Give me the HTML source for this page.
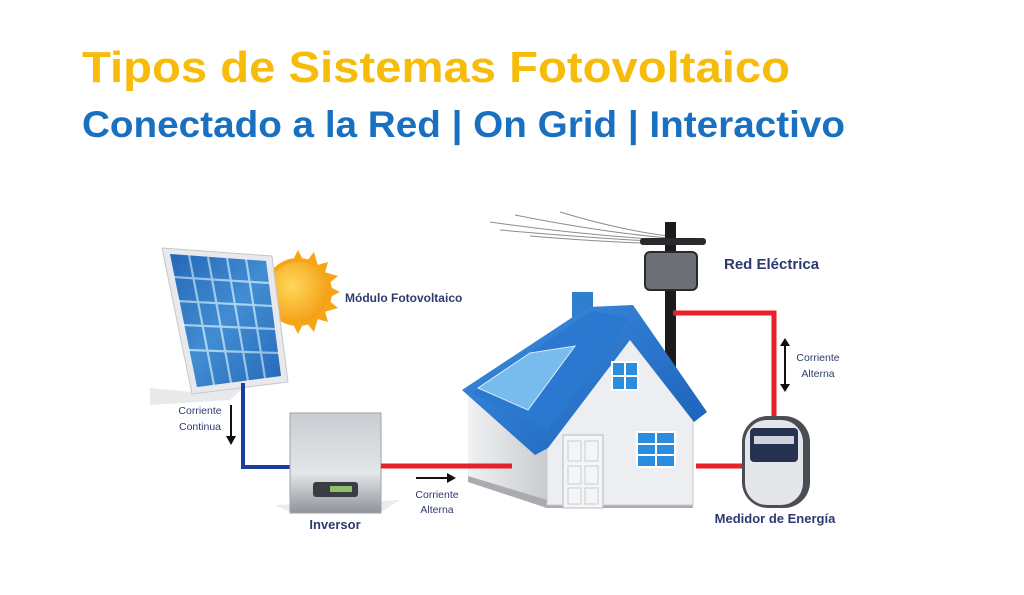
<!DOCTYPE html>
<html><head><meta charset="utf-8"><style>html,body{margin:0;padding:0;background:#fff}svg{display:block}</style></head>
<body>
<svg width="1024" height="595" viewBox="0 0 1024 595" xmlns="http://www.w3.org/2000/svg" font-family="Liberation Sans, sans-serif">
<defs>
<linearGradient id="cell" x1="0" y1="0" x2="1" y2="1"><stop offset="0" stop-color="#1b5fae"/><stop offset="0.5" stop-color="#5fb1e8"/><stop offset="1" stop-color="#1f62b0"/></linearGradient>
<radialGradient id="sun" cx="0.4" cy="0.4" r="0.7"><stop offset="0" stop-color="#ffd85a"/><stop offset="1" stop-color="#f39a10"/></radialGradient>
<linearGradient id="inv" x1="0" y1="0" x2="0" y2="1"><stop offset="0" stop-color="#c9ccd1"/><stop offset="0.6" stop-color="#e4e6e9"/><stop offset="1" stop-color="#8f939a"/></linearGradient>
<linearGradient id="roof" x1="0" y1="0" x2="1" y2="1"><stop offset="0" stop-color="#3d8ee0"/><stop offset="1" stop-color="#1a5fb8"/></linearGradient>
<linearGradient id="side" x1="0" y1="0" x2="1" y2="0"><stop offset="0" stop-color="#f0f1f3"/><stop offset="1" stop-color="#c9cbcf"/></linearGradient>
</defs>
<text x="82" y="82" font-size="44" font-weight="bold" fill="#f7bb0a" textLength="708" lengthAdjust="spacingAndGlyphs">Tipos de Sistemas Fotovoltaico</text>
<text x="82" y="137" font-size="37" font-weight="bold" fill="#1a70c0" textLength="763" lengthAdjust="spacingAndGlyphs">Conectado a la Red | On Grid | Interactivo</text>

<g transform="translate(298,292)">
<circle r="34" fill="#f6a515"/>
<g fill="#f6a515"><polygon points="0,-42 6,-30 -6,-30"/><polygon points="0,42 6,30 -6,30"/><polygon points="42,0 30,6 30,-6"/><polygon points="30,-30 26,-16 16,-26"/><polygon points="30,30 26,16 16,26"/><polygon points="16,-40 20,-26 8,-30"/><polygon points="40,-16 26,-20 30,-8"/><polygon points="40,16 26,20 30,8"/><polygon points="16,40 20,26 8,30"/></g>
<circle r="30" fill="url(#sun)"/>
</g>
<polygon points="150,388 192,392 250,382 230,400 150,405" fill="#d9dadd" opacity="0.6"/>
<polygon points="162,248 272,256 288,382 192,394" fill="#e8e9ec" stroke="#c5c7cc"/>
<polygon points="170,254 266,261 281,376 197,387" fill="#2a6fc0"/>
<g stroke="#e8f2fa" stroke-width="2.2" fill="none">
<line x1="189" y1="255" x2="214" y2="385"/><line x1="208" y1="257" x2="231" y2="383"/><line x1="227" y1="258" x2="248" y2="381"/><line x1="246" y1="259" x2="265" y2="378"/>
<line x1="173" y1="277" x2="269" y2="283"/><line x1="177" y1="301" x2="272" y2="306"/><line x1="182" y1="325" x2="275" y2="329"/><line x1="188" y1="350" x2="278" y2="353"/>
</g>
<polygon points="170,254 266,261 281,376 197,387" fill="url(#cell)" opacity="0.45"/>
<text x="345" y="302" font-size="12" font-weight="bold" fill="#2d3a6e">Módulo Fotovoltaico</text>

<polyline points="243,383 243,467 291,467" fill="none" stroke="#1c3d9a" stroke-width="4"/>
<text x="200" y="414" font-size="10.5" fill="#2d3a6e" text-anchor="middle">Corriente</text>
<text x="200" y="430" font-size="10.5" fill="#2d3a6e" text-anchor="middle">Continua</text>
<line x1="231" y1="405" x2="231" y2="437" stroke="#111" stroke-width="2"/><polygon points="226,436 236,436 231,445" fill="#111"/>

<polygon points="275,505 290,512 381,512 400,500" fill="#ddd" opacity="0.6"/>
<rect x="290" y="413" width="91" height="100" fill="url(#inv)" stroke="#9ea2a8"/>
<rect x="313" y="482" width="45" height="15" rx="3" fill="#3a3d44"/>
<rect x="330" y="486" width="22" height="6" fill="#8fbf6a"/>
<text x="335" y="529" font-size="13" font-weight="bold" fill="#2d3a6e" text-anchor="middle">Inversor</text>

<line x1="416" y1="478" x2="448" y2="478" stroke="#111" stroke-width="2"/><polygon points="447,473 456,478 447,483" fill="#111"/>
<text x="437" y="498" font-size="10.5" fill="#2d3a6e" text-anchor="middle">Corriente</text>
<text x="437" y="513" font-size="10.5" fill="#2d3a6e" text-anchor="middle">Alterna</text>

<g stroke="#8a8d92" stroke-width="1" fill="none">
<path d="M490,222 Q580,235 668,240"/><path d="M500,230 Q590,238 668,242"/><path d="M515,215 Q600,232 668,238"/><path d="M530,236 Q600,242 668,244"/><path d="M560,212 Q620,230 668,236"/></g>
<rect x="665" y="222" width="11" height="146" fill="#1b1b1d"/>
<rect x="640" y="238" width="66" height="7" rx="3" fill="#2a2a2d"/>
<rect x="645" y="252" width="52" height="38" rx="5" fill="#6c6f75" stroke="#2a2a2d" stroke-width="2"/>
<text x="724" y="269" font-size="15" font-weight="bold" fill="#2d3a6e">Red Eléctrica</text>

<polyline points="673,313 774,313 774,418" fill="none" stroke="#e8202a" stroke-width="5"/>
<line x1="696" y1="466" x2="746" y2="466" stroke="#e8202a" stroke-width="5"/>
<line x1="785" y1="345" x2="785" y2="385" stroke="#111" stroke-width="2"/>
<polygon points="780,346 790,346 785,338" fill="#111"/><polygon points="780,384 790,384 785,392" fill="#111"/>
<text x="818" y="361" font-size="10.5" fill="#2d3a6e" text-anchor="middle">Corriente</text>
<text x="818" y="377" font-size="10.5" fill="#2d3a6e" text-anchor="middle">Alterna</text>

<polygon points="468,395 547,440 547,508 468,482" fill="url(#side)"/>
<polygon points="468,482 547,508 693,508 693,500 547,500 468,476" fill="#a9abaf"/>
<polygon points="547,423 630,338 693,420 693,505 547,505" fill="#eceef1" stroke="#c8cacd"/>
<rect x="572" y="292" width="21" height="42" fill="#2f7fd0"/>
<polygon points="462,390 588,307 633,305 707,412 694,422 630,340 548,448 535,455" fill="url(#roof)"/>
<polygon points="472,393 592,311 630,318 548,430" fill="#2a78cf"/>
<polygon points="478,388 530,353 575,346 528,410" fill="#7fc3ef" opacity="0.9"/>
<polygon points="478,388 530,353 575,346 528,410" fill="none" stroke="#d6ecfa" stroke-width="1"/>
<rect x="612" y="362" width="26" height="28" fill="#2b8de0" stroke="#fff" stroke-width="2"/>
<line x1="625" y1="362" x2="625" y2="390" stroke="#fff" stroke-width="2"/><line x1="612" y1="376" x2="638" y2="376" stroke="#fff" stroke-width="2"/>
<rect x="637" y="432" width="38" height="35" fill="#2b8de0" stroke="#fff" stroke-width="2"/>
<line x1="656" y1="432" x2="656" y2="467" stroke="#fff" stroke-width="2"/><line x1="637" y1="444" x2="675" y2="444" stroke="#fff" stroke-width="2"/><line x1="637" y1="455" x2="675" y2="455" stroke="#fff" stroke-width="2"/>
<rect x="563" y="435" width="40" height="73" fill="#f4f5f7" stroke="#b9bbbf"/>
<rect x="568" y="441" width="13" height="20" fill="none" stroke="#c9cbce"/><rect x="585" y="441" width="13" height="20" fill="none" stroke="#c9cbce"/>
<rect x="568" y="466" width="13" height="18" fill="none" stroke="#c9cbce"/><rect x="585" y="466" width="13" height="18" fill="none" stroke="#c9cbce"/>
<rect x="568" y="488" width="13" height="16" fill="none" stroke="#c9cbce"/><rect x="585" y="488" width="13" height="16" fill="none" stroke="#c9cbce"/>

<line x1="381" y1="466" x2="512" y2="466" stroke="#e8202a" stroke-width="5"/>

<rect x="742" y="416" width="68" height="92" rx="26" fill="#4a4d53"/>
<rect x="745" y="420" width="58" height="85" rx="22" fill="#e4e6ea"/>
<rect x="750" y="428" width="48" height="34" rx="4" fill="#26324f"/>
<rect x="754" y="436" width="40" height="8" fill="#cfd3db"/>
<text x="775" y="523" font-size="13" font-weight="bold" fill="#2d3a6e" text-anchor="middle">Medidor de Energía</text>
</svg>
</body></html>
